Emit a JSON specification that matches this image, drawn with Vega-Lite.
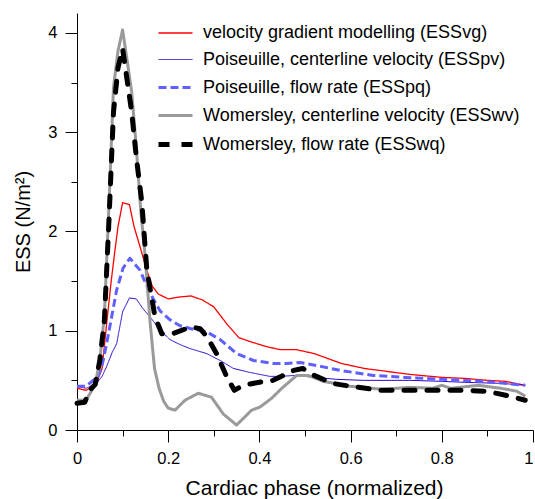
{
  "$schema": "https://vega.github.io/schema/vega-lite/v6.json",
  "autosize": "none",
  "width": 456,
  "height": 417,
  "padding": {"left": 77, "top": 13, "right": 2, "bottom": 69},
  "background": "white",
  "config": {
    "view": {"stroke": null},
    "font": "Liberation Sans",
    "axis": {"domainColor": "black", "tickColor": "black", "labelColor": "black", "titleColor": "black", "labelFont": "Liberation Sans", "titleFont": "Liberation Sans", "titleFontWeight": "normal", "grid": false, "domainWidth": 1, "tickWidth": 1}
  },
  "datasets": {
    "names": [
      {"s": "vg", "name": "velocity gradient modelling (ESSvg)"},
      {"s": "pv", "name": "Poiseuille, centerline velocity (ESSpv)"},
      {"s": "pq", "name": "Poiseuille, flow rate (ESSpq)"},
      {"s": "wv", "name": "Womersley, centerline velocity (ESSwv)"},
      {"s": "wq", "name": "Womersley, flow rate (ESSwq)"}
    ]
  },
  "data": {"values": [
    {"s":"vg","x":0,"y":0.42},{"s":"vg","x":0.02,"y":0.40},{"s":"vg","x":0.035,"y":0.44},{"s":"vg","x":0.045,"y":0.50},{"s":"vg","x":0.055,"y":0.62},{"s":"vg","x":0.065,"y":1.07},{"s":"vg","x":0.075,"y":1.5},{"s":"vg","x":0.083,"y":1.8},{"s":"vg","x":0.09,"y":2.05},{"s":"vg","x":0.1,"y":2.29},{"s":"vg","x":0.115,"y":2.27},{"s":"vg","x":0.125,"y":2.05},{"s":"vg","x":0.138,"y":1.85},{"s":"vg","x":0.153,"y":1.61},{"s":"vg","x":0.165,"y":1.45},{"s":"vg","x":0.178,"y":1.37},{"s":"vg","x":0.2,"y":1.32},{"s":"vg","x":0.225,"y":1.34},{"s":"vg","x":0.25,"y":1.35},{"s":"vg","x":0.275,"y":1.31},{"s":"vg","x":0.3,"y":1.24},{"s":"vg","x":0.33,"y":1.06},{"s":"vg","x":0.355,"y":0.93},{"s":"vg","x":0.38,"y":0.89},{"s":"vg","x":0.415,"y":0.84},{"s":"vg","x":0.445,"y":0.81},{"s":"vg","x":0.48,"y":0.81},{"s":"vg","x":0.52,"y":0.77},{"s":"vg","x":0.55,"y":0.72},{"s":"vg","x":0.58,"y":0.67},{"s":"vg","x":0.63,"y":0.62},{"s":"vg","x":0.68,"y":0.59},{"s":"vg","x":0.73,"y":0.56},{"s":"vg","x":0.8,"y":0.53},{"s":"vg","x":0.85,"y":0.52},{"s":"vg","x":0.9,"y":0.50},{"s":"vg","x":0.94,"y":0.49},{"s":"vg","x":0.983,"y":0.45},
    {"s":"pv","x":0,"y":0.44},{"s":"pv","x":0.02,"y":0.42},{"s":"pv","x":0.043,"y":0.47},{"s":"pv","x":0.055,"y":0.54},{"s":"pv","x":0.065,"y":0.64},{"s":"pv","x":0.077,"y":0.78},{"s":"pv","x":0.087,"y":0.87},{"s":"pv","x":0.1,"y":1.19},{"s":"pv","x":0.115,"y":1.33},{"s":"pv","x":0.13,"y":1.32},{"s":"pv","x":0.145,"y":1.22},{"s":"pv","x":0.16,"y":1.14},{"s":"pv","x":0.182,"y":1.01},{"s":"pv","x":0.204,"y":0.91},{"s":"pv","x":0.226,"y":0.86},{"s":"pv","x":0.248,"y":0.82},{"s":"pv","x":0.284,"y":0.77},{"s":"pv","x":0.314,"y":0.70},{"s":"pv","x":0.343,"y":0.62},{"s":"pv","x":0.379,"y":0.58},{"s":"pv","x":0.423,"y":0.54},{"s":"pv","x":0.445,"y":0.54},{"s":"pv","x":0.48,"y":0.55},{"s":"pv","x":0.52,"y":0.53},{"s":"pv","x":0.57,"y":0.51},{"s":"pv","x":0.628,"y":0.50},{"s":"pv","x":0.73,"y":0.50},{"s":"pv","x":0.8,"y":0.49},{"s":"pv","x":0.85,"y":0.48},{"s":"pv","x":0.93,"y":0.47},{"s":"pv","x":0.983,"y":0.45},
    {"s":"pq","x":0,"y":0.44},{"s":"pq","x":0.02,"y":0.44},{"s":"pq","x":0.046,"y":0.54},{"s":"pq","x":0.055,"y":0.65},{"s":"pq","x":0.065,"y":0.87},{"s":"pq","x":0.087,"y":1.41},{"s":"pq","x":0.101,"y":1.63},{"s":"pq","x":0.116,"y":1.73},{"s":"pq","x":0.138,"y":1.61},{"s":"pq","x":0.16,"y":1.38},{"s":"pq","x":0.182,"y":1.20},{"s":"pq","x":0.204,"y":1.11},{"s":"pq","x":0.226,"y":1.05},{"s":"pq","x":0.25,"y":1.02},{"s":"pq","x":0.284,"y":0.99},{"s":"pq","x":0.314,"y":0.91},{"s":"pq","x":0.35,"y":0.77},{"s":"pq","x":0.387,"y":0.70},{"s":"pq","x":0.43,"y":0.67},{"s":"pq","x":0.46,"y":0.67},{"s":"pq","x":0.49,"y":0.68},{"s":"pq","x":0.525,"y":0.65},{"s":"pq","x":0.577,"y":0.60},{"s":"pq","x":0.65,"y":0.55},{"s":"pq","x":0.72,"y":0.53},{"s":"pq","x":0.8,"y":0.51},{"s":"pq","x":0.89,"y":0.49},{"s":"pq","x":0.983,"y":0.45},
    {"s":"wv","x":0,"y":0.30},{"s":"wv","x":0.02,"y":0.30},{"s":"wv","x":0.03,"y":0.38},{"s":"wv","x":0.04,"y":0.46},{"s":"wv","x":0.05,"y":0.70},{"s":"wv","x":0.06,"y":1.15},{"s":"wv","x":0.07,"y":2.25},{"s":"wv","x":0.08,"y":3.45},{"s":"wv","x":0.09,"y":3.82},{"s":"wv","x":0.1,"y":4.03},{"s":"wv","x":0.11,"y":3.72},{"s":"wv","x":0.12,"y":3.4},{"s":"wv","x":0.13,"y":2.85},{"s":"wv","x":0.14,"y":2.2},{"s":"wv","x":0.15,"y":1.72},{"s":"wv","x":0.16,"y":1.1},{"s":"wv","x":0.17,"y":0.62},{"s":"wv","x":0.18,"y":0.42},{"s":"wv","x":0.19,"y":0.29},{"s":"wv","x":0.2,"y":0.22},{"s":"wv","x":0.215,"y":0.20},{"s":"wv","x":0.237,"y":0.30},{"s":"wv","x":0.266,"y":0.37},{"s":"wv","x":0.295,"y":0.33},{"s":"wv","x":0.321,"y":0.16},{"s":"wv","x":0.35,"y":0.05},{"s":"wv","x":0.383,"y":0.20},{"s":"wv","x":0.401,"y":0.23},{"s":"wv","x":0.427,"y":0.32},{"s":"wv","x":0.449,"y":0.42},{"s":"wv","x":0.482,"y":0.55},{"s":"wv","x":0.507,"y":0.55},{"s":"wv","x":0.54,"y":0.49},{"s":"wv","x":0.6,"y":0.44},{"s":"wv","x":0.67,"y":0.41},{"s":"wv","x":0.73,"y":0.43},{"s":"wv","x":0.78,"y":0.42},{"s":"wv","x":0.80,"y":0.45},{"s":"wv","x":0.82,"y":0.42},{"s":"wv","x":0.88,"y":0.45},{"s":"wv","x":0.93,"y":0.42},{"s":"wv","x":0.965,"y":0.39},{"s":"wv","x":0.983,"y":0.34},
    {"s":"wq","x":0,"y":0.27},{"s":"wq","x":0.017,"y":0.28},{"s":"wq","x":0.028,"y":0.40},{"s":"wq","x":0.04,"y":0.46},{"s":"wq","x":0.05,"y":0.70},{"s":"wq","x":0.06,"y":1.1},{"s":"wq","x":0.07,"y":2.1},{"s":"wq","x":0.08,"y":3.2},{"s":"wq","x":0.09,"y":3.65},{"s":"wq","x":0.1,"y":3.84},{"s":"wq","x":0.11,"y":3.52},{"s":"wq","x":0.12,"y":3.2},{"s":"wq","x":0.13,"y":2.75},{"s":"wq","x":0.142,"y":2.3},{"s":"wq","x":0.153,"y":1.62},{"s":"wq","x":0.171,"y":1.14},{"s":"wq","x":0.186,"y":0.97},{"s":"wq","x":0.21,"y":0.97},{"s":"wq","x":0.25,"y":1.04},{"s":"wq","x":0.27,"y":1.02},{"s":"wq","x":0.285,"y":0.94},{"s":"wq","x":0.306,"y":0.77},{"s":"wq","x":0.328,"y":0.54},{"s":"wq","x":0.345,"y":0.40},{"s":"wq","x":0.365,"y":0.45},{"s":"wq","x":0.41,"y":0.49},{"s":"wq","x":0.43,"y":0.50},{"s":"wq","x":0.475,"y":0.60},{"s":"wq","x":0.495,"y":0.62},{"s":"wq","x":0.52,"y":0.55},{"s":"wq","x":0.56,"y":0.47},{"s":"wq","x":0.6,"y":0.44},{"s":"wq","x":0.665,"y":0.40},{"s":"wq","x":0.73,"y":0.40},{"s":"wq","x":0.84,"y":0.40},{"s":"wq","x":0.9,"y":0.39},{"s":"wq","x":0.94,"y":0.35},{"s":"wq","x":0.983,"y":0.30}
  ]},
  "transform": [
    {"lookup": "s", "from": {"data": {"name": "names"}, "key": "s", "fields": ["name"]}}
  ],
  "encoding": {
    "x": {"field": "x", "type": "quantitative",
      "scale": {"domain": [0, 1], "nice": false, "zero": false},
      "axis": {
        "values": [0, 0.1, 0.2, 0.3, 0.4, 0.5, 0.6, 0.7, 0.8, 0.9, 1],
        "tickSize": {"condition": {"test": "round(datum.value*10) % 2 === 0", "value": 12}, "value": 6},
        "labelExpr": "round(datum.value*10) % 2 === 0 ? format(datum.value, '~g') : ''",
        "labelAlign": {"condition": {"test": "datum.value === 1", "value": "right"}, "value": "center"},
        "labelFontSize": 16.5, "labelBaseline": "alphabetic", "labelPadding": 21, "labelFlush": false,
        "title": "Cardiac phase (normalized)", "titleFontSize": 21,
        "titleX": 237, "titleY": 64, "titleBaseline": "alphabetic", "titleAlign": "center"
      }
    },
    "y": {"field": "y", "type": "quantitative",
      "scale": {"domain": [0, 4.2], "nice": false},
      "axis": {
        "values": [0, 0.5, 1, 1.5, 2, 2.5, 3, 3.5, 4],
        "tickSize": {"condition": {"test": "round(datum.value*2) % 2 === 0", "value": 12}, "value": 6},
        "labelExpr": "round(datum.value*2) % 2 === 0 ? format(datum.value, '~g') : ''",
        "labelFontSize": 16.5, "labelPadding": 8,
        "title": "ESS (N/m²)", "titleFontSize": 20, "titleAngle": 270,
        "titleX": -47.5, "titleY": 208.5, "titleBaseline": "alphabetic", "titleAlign": "center"
      }
    },
    "detail": {"field": "name"},
    "color": {"field": "name", "type": "nominal",
      "scale": {"domain": ["velocity gradient modelling (ESSvg)", "Poiseuille, centerline velocity (ESSpv)", "Poiseuille, flow rate (ESSpq)", "Womersley, centerline velocity (ESSwv)", "Womersley, flow rate (ESSwq)"],
        "range": ["#ff0000", "#2b00d0", "#6060ff", "#9a9a9a", "#000000"]},
      "legend": {"orient": "none", "legendX": 79, "legendY": 2, "title": null, "symbolType": "stroke", "symbolSize": 1156, "labelFontSize": 18, "labelFont": "Liberation Sans", "labelColor": "black", "labelOffset": 8, "rowPadding": 0, "padding": 0, "labelLimit": 400}
    },
    "strokeDash": {"field": "name", "type": "nominal",
      "scale": {"domain": ["velocity gradient modelling (ESSvg)", "Poiseuille, centerline velocity (ESSpv)", "Poiseuille, flow rate (ESSpq)", "Womersley, centerline velocity (ESSwv)", "Womersley, flow rate (ESSwq)"],
        "range": [[1, 0], [1, 0], [8, 4], [1, 0], [11, 12]]}
    },
    "strokeWidth": {"field": "name", "type": "nominal",
      "scale": {"type": "ordinal", "domain": ["velocity gradient modelling (ESSvg)", "Poiseuille, centerline velocity (ESSpv)", "Poiseuille, flow rate (ESSpq)", "Womersley, centerline velocity (ESSwv)", "Womersley, flow rate (ESSwq)"],
        "range": [1.3, 1, 3, 3, 5]}
    }
  },
  "layer": [
    {"transform": [{"filter": "datum.s !== 'wq'"}], "mark": {"type": "line", "clip": false, "strokeJoin": "round"}},
    {"transform": [{"filter": "datum.s === 'wq'"}], "mark": {"type": "line", "clip": false, "strokeJoin": "round", "strokeCap": "round"}}
  ]
}
